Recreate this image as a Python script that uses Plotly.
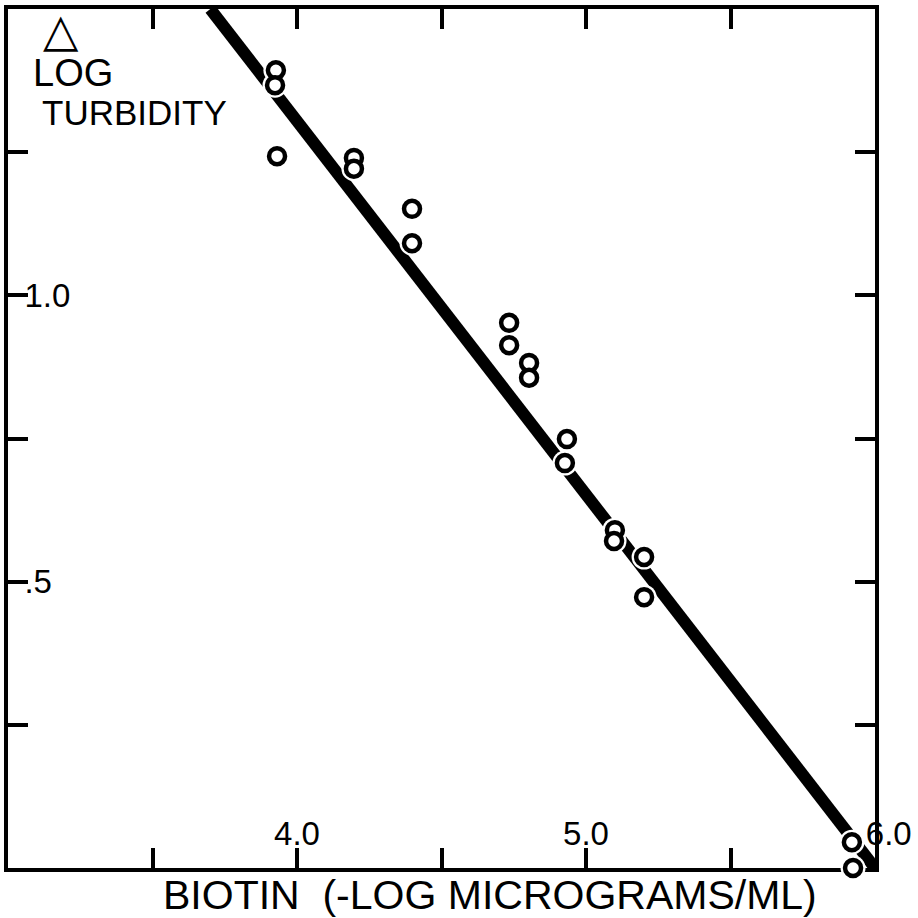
import plotly.graph_objects as go

# Data
biotin = [3.927, 3.924, 3.931, 4.197, 4.197, 4.398, 4.398, 4.734, 4.734,
          4.803, 4.803, 4.934, 4.927, 5.100, 5.097, 5.201, 5.201, 5.920, 5.924]
log_turbidity = [1.393, 1.367, 1.243, 1.240, 1.221, 1.151, 1.091, 0.952, 0.913,
                 0.882, 0.856, 0.749, 0.707, 0.590, 0.571, 0.543, 0.473, 0.045, 0.0]

fit_x = [3.70, 6.0]
fit_y = [1.5, 0.0]

x_tickvals = [3.5, 4.0, 4.5, 5.0, 5.5, 6.0]
x_ticktext = ["", "4.0", "", "5.0", "", "\u00a0\u00a0\u00a06.0"]
y_tickvals = [0.25, 0.5, 0.75, 1.0, 1.25]
y_ticktext = ["", ".5", "", "1.0", ""]

FONT = "Liberation Sans, Arial, sans-serif"

fig = go.Figure()
fig.add_trace(go.Scatter(x=fit_x, y=fit_y, mode="lines",
                         line=dict(color="black", width=12), hoverinfo="skip"))
# white halos that interrupt the line around the circles
fig.add_trace(go.Scatter(x=biotin, y=log_turbidity, mode="markers",
                         marker=dict(symbol="circle", size=25, color="white",
                                     line=dict(width=0)),
                         cliponaxis=False, hoverinfo="skip"))
fig.add_trace(go.Scatter(x=biotin, y=log_turbidity, mode="markers",
                         marker=dict(symbol="circle", size=16, color="white",
                                     line=dict(color="black", width=4.5)),
                         cliponaxis=False))

axis_common = dict(showgrid=False, zeroline=False, showline=True, linecolor="black",
                   linewidth=4, mirror="allticks", ticks="inside", ticklen=20,
                   tickwidth=4, tickcolor="black", ticklabelposition="inside",
                   ticklabeloverflow="allow", layer="below traces", automargin=False,
                   tickfont=dict(family=FONT, size=33, color="black"))

fig.update_xaxes(range=[3.0, 6.0], tickmode="array", tickvals=x_tickvals,
                 ticktext=x_ticktext, **axis_common)
fig.update_yaxes(range=[0.0, 1.5], tickmode="array", tickvals=y_tickvals,
                 ticktext=y_ticktext, **axis_common)

annots = [
    dict(text="△", x=0.061, y=0.976, font=dict(size=46)),
    dict(text="LOG", x=0.026, y=0.925, xanchor="left", font=dict(size=38)),
    dict(text="TURBIDITY", x=0.037, y=0.879, xanchor="left", font=dict(size=35)),
    dict(text="BIOTIN  (-LOG MICROGRAMS/ML)", x=0.556, y=-0.031, font=dict(size=41)),
]
for a in annots:
    a.setdefault("xanchor", "center")
    a["font"].update(family=FONT, color="black")
    fig.add_annotation(xref="paper", yref="paper", yanchor="middle",
                       showarrow=False, **a)

fig.update_layout(width=918, height=918, showlegend=False,
                  margin=dict(l=8, r=43, t=9, b=50, autoexpand=False),
                  plot_bgcolor="white", paper_bgcolor="white")

fig.write_html("out.html")
